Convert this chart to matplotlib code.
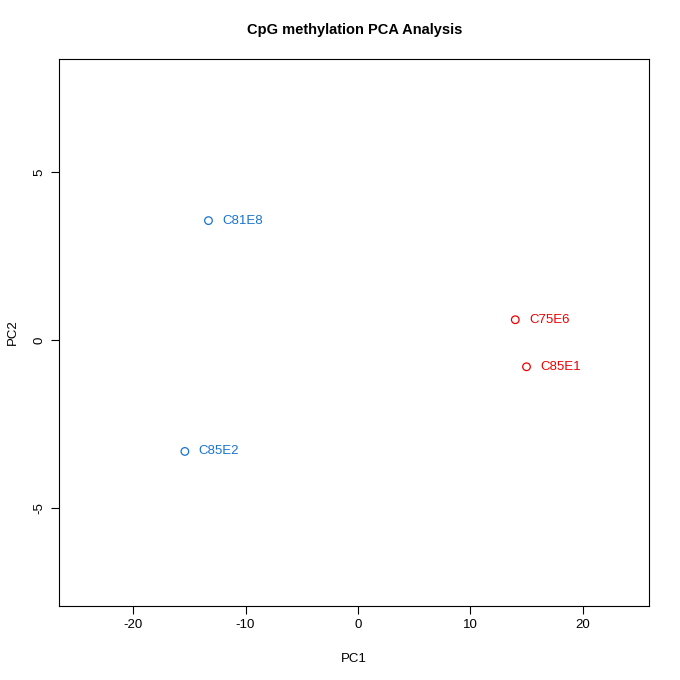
import matplotlib
matplotlib.use("Agg")
import matplotlib.pyplot as plt

plt.rcParams["font.family"] = ["Liberation Sans", "DejaVu Sans"]
plt.rcParams["axes.unicode_minus"] = False

labels = ["C81E8", "C85E2", "C75E6", "C85E1"]
pc1 = [-13.3, -15.4, 14.0, 15.0]
pc2 = [3.55, -3.32, 0.60, -0.80]
colors = ["#1874CD", "#1874CD", "#EE0000", "#EE0000"]

fig = plt.figure(figsize=(6.8, 6.8), dpi=100)
ax = fig.add_axes([59/680, 74/680, 590/680, 547/680])
for x, y, c, l in zip(pc1, pc2, colors, labels):
    ax.scatter([x], [y], s=30, facecolors="none", edgecolors=c, linewidths=0.9)
    ax.annotate(l, (x, y), xytext=(14, 0), textcoords="offset pixels",
                color=c, fontsize=9.5, va="center", ha="left")
ax.set_xlim(-26.6, 25.9)
ax.set_ylim(-7.92, 8.36)
ax.set_xticks([-20, -10, 0, 10, 20])
ax.set_yticks([-5, 0, 5])
for lab in ax.get_yticklabels():
    lab.set_rotation(90); lab.set_va("center")
ax.tick_params(labelsize=9.5, length=6)
ax.set_xlabel("PC1", fontsize=9.5, labelpad=16)
ax.yaxis.set_label_coords(-40/590, 0.5)
ax.set_ylabel("PC2", fontsize=9.5)
fig.text(355/680, 1 - 30/680, "CpG methylation PCA Analysis", ha="center", va="center",
         fontsize=10.5, fontweight="bold")
fig.savefig("out.png", dpi=100)
